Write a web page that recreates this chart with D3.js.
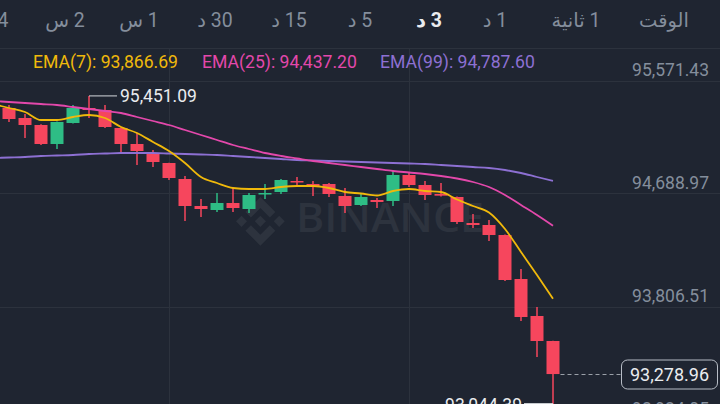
<!DOCTYPE html>
<html><head><meta charset="utf-8">
<script src="https://cdn.jsdelivr.net/npm/d3@7"></script>
<style>html,body{margin:0;padding:0;background:#1f2531;overflow:hidden}svg{display:block}</style>
</head><body>
<svg id="c" width="720" height="404"></svg>
<script>
// ---- data ----
const tabs = ["الوقت","1 ثانية","1 د","3 د","5 د","15 د","30 د","1 س","2 س","4"];
const activeTab = "3 د";
// candle index -1 is just off the left edge
const candleIdx = d3.range(-1, 35);
const opens  = [95380.00,95356.68,95278.58,95223.92,95075.54,95239.54,95356.68,95341.06,95200.49,95075.54,95005.25,94927.16,94802.21,94591.36,94560.12,94614.79,94567.93,94685.07,94700.69,94786.59,94763.16,94763.16,94669.45,94599.17,94638.21,94630.40,94833.45,94755.35,94685.07,94661.64,94458.60,94442.98,94364.89,94021.27,93732.33,93537.09];
const highs  = [95410.00,95380.11,95309.82,95230.00,95252.00,95380.11,95451.09,95380.11,95205.00,95161.44,95028.68,94930.00,94825.64,94646.02,94692.88,94731.93,94692.88,94763.16,94802.21,94818.00,94786.59,94770.00,94731.93,94685.07,94653.83,94864.69,94856.88,94786.59,94770.97,94665.00,94528.88,94482.03,94368.00,94099.37,93802.61,93540.00];
const lows   = [95340.00,95247.35,95122.40,95067.73,95036.49,95236.00,95278.58,95200.49,95013.06,94911.54,94895.92,94794.40,94474.22,94505.45,94544.50,94544.50,94536.69,94646.02,94685.07,94747.55,94669.45,94661.64,94536.69,94591.36,94575.74,94591.36,94739.74,94638.21,94665.00,94450.79,94419.55,94318.03,94005.65,93693.28,93412.14,93044.39];
const closes = [95356.68,95270.77,95223.92,95075.54,95247.35,95356.68,95341.06,95208.30,95075.54,95020.87,94934.97,94810.02,94591.36,94567.93,94614.79,94575.74,94677.26,94692.88,94794.40,94778.00,94739.74,94685.07,94591.36,94661.64,94622.60,94833.45,94755.35,94677.26,94672.00,94466.41,94442.98,94364.89,94013.46,93724.52,93537.09,93278.96];
const ema7  = [95387.91,95356.68,95325.44,95262.96,95262.96,95286.39,95302.01,95278.58,95208.30,95161.44,95091.16,95020.87,94927.16,94817.83,94770.97,94731.93,94724.12,94724.12,94739.74,94747.55,94747.55,94731.93,94700.69,94688.98,94673.36,94708.50,94724.12,94708.50,94700.69,94642.12,94591.36,94540.60,94411.74,94232.13,94052.51,93866.69];
const ema25 = [95411.34,95403.53,95395.72,95387.91,95380.11,95364.49,95348.87,95333.25,95317.63,95286.39,95255.16,95223.92,95184.87,95145.82,95106.78,95067.73,95036.49,95005.25,94981.83,94962.30,94942.78,94927.16,94911.54,94895.92,94880.30,94864.69,94852.97,94841.26,94825.64,94806.12,94778.78,94739.74,94677.26,94599.17,94521.07,94437.20];
const ema99 = [94966.21,94970.11,94974.02,94981.83,94985.73,94989.64,94997.45,95001.35,95005.25,95005.25,95005.25,95001.35,94997.45,94993.54,94989.64,94981.83,94974.02,94966.21,94958.40,94950.59,94946.68,94942.78,94938.87,94934.97,94931.07,94927.16,94923.26,94919.35,94911.54,94903.73,94895.92,94888.11,94872.50,94849.07,94817.83,94787.60];
const emaNames = ["EMA(7)","EMA(25)","EMA(99)"];
const priceTicks = [95571.43, 94688.97, 93806.51, 92924.05];
const timeGridIdx = [10, 25];
const highLabel = 95451.09, highIdx = 5;
const lowLabel = 93044.39, lowIdx = 34;
const lastPrice = 93278.96;

// ---- styles ----
const BG = "#1f2531", GRID = "#2c323d";
const UP = "#2ebd85", DOWN = "#f6465d";
const emaColors = ["#f0b90b", "#e348ab", "#8d70d3"];
const FONT = "Roboto, 'DejaVu Sans', sans-serif";

const svg = d3.select("#c");
const W = 720, H = 404;
svg.append("rect").attr("width", W).attr("height", H).attr("fill", BG);

const x = d3.scaleLinear().domain([0, 34]).range([9, 553]);
const y = d3.scaleLinear().domain([93806.51, 95571.43]).range([306.5, 80.5]);

// top tab bar
const tabX = [664, 576, 495, 429, 360, 289, 215, 139, 65, 3];
svg.append("g").selectAll("text").data(tabs).join("text")
  .attr("x", (d, i) => tabX[i]).attr("y", 27)
  .attr("text-anchor", "middle")
  .attr("direction", "rtl").attr("unicode-bidi", "embed")
  .attr("font-family", FONT).attr("font-size", 19.5)
  .attr("font-weight", d => d === activeTab ? 700 : 400)
  .attr("fill", d => d === activeTab ? "#eaecef" : "#848e9c")
  .text(d => d);
svg.append("line").attr("x1", 0).attr("x2", W).attr("y1", 48.5).attr("y2", 48.5).attr("stroke", GRID);

// grid
svg.append("g").selectAll("line").data(priceTicks).join("line")
  .attr("x1", 0).attr("x2", W)
  .attr("y1", d => Math.round(y(d)) + 0.5).attr("y2", d => Math.round(y(d)) + 0.5)
  .attr("stroke", GRID);
svg.append("g").selectAll("line").data(timeGridIdx).join("line")
  .attr("x1", d => Math.round(x(d)) + 0.5).attr("x2", d => Math.round(x(d)) + 0.5)
  .attr("y1", 49).attr("y2", H).attr("stroke", GRID);

// watermark
const wm = svg.append("g").attr("fill", "#2d333e");
const logo = wm.append("g").attr("transform", "translate(236,197) scale(0.385)");
logo.append("path").attr("d", "M38.73,53.2 L63.3,28.64 L87.89,53.22 L102.19,38.92 L63.3,0 L24.43,38.9 Z");
logo.append("path").attr("d", "M0,63.31 L14.3,49.01 L28.6,63.31 L14.3,77.61 Z");
logo.append("path").attr("d", "M48.8,63.3 L63.3,48.8 L77.8,63.3 L63.3,77.8 Z");
logo.append("path").attr("d", "M98.01,63.31 L112.31,49.01 L126.61,63.31 L112.31,77.61 Z");
logo.append("path").attr("d", "M38.73,73.41 L63.3,97.97 L87.89,73.39 L102.2,87.68 L63.3,126.61 L24.42,87.72 Z");
wm.append("text").attr("x", 296).attr("y", 232).attr("font-family", "'Open Sans', sans-serif")
  .attr("font-weight", 600).attr("font-size", 40).attr("textLength", 188).attr("lengthAdjust", "spacingAndGlyphs")
  .text("BINANCE");

// candles
const candles = candleIdx.map((k, i) => ({ k, o: opens[i], h: highs[i], l: lows[i], c: closes[i] }));
const cg = svg.append("g");
const bw = 13;
cg.selectAll("line").data(candles).join("line")
  .attr("x1", d => x(d.k)).attr("x2", d => x(d.k))
  .attr("y1", d => y(d.h)).attr("y2", d => y(d.l))
  .attr("stroke", d => d.c >= d.o ? UP : DOWN).attr("stroke-width", 1.5);
cg.selectAll("rect").data(candles).join("rect")
  .attr("x", d => x(d.k) - bw / 2).attr("width", bw)
  .attr("y", d => y(Math.max(d.o, d.c)))
  .attr("height", d => Math.max(1.5, Math.abs(y(d.o) - y(d.c))))
  .attr("fill", d => d.c >= d.o ? UP : DOWN);

// EMA lines
const line = d3.line().x((d, i) => x(candleIdx[i])).y(d => y(d)).curve(d3.curveMonotoneX);
[ema99, ema25, ema7].forEach((s, j) => {
  svg.append("path").attr("d", line(s)).attr("fill", "none")
    .attr("stroke", emaColors[2 - j]).attr("stroke-width", 1.8);
});

// legend
const legendX = [33, 202, 380];
const emaLast = [ema7, ema25, ema99].map(s => s[s.length - 1]);
const fmt = d3.format(",.2f");
svg.append("g").selectAll("text").data(emaNames).join("text")
  .attr("x", (d, i) => legendX[i]).attr("y", 68)
  .attr("font-family", FONT).attr("font-size", 17.6)
  .attr("fill", (d, i) => emaColors[i])
  .text((d, i) => `${d}: ${fmt(emaLast[i])}`);

// right price labels
svg.append("g").selectAll("text").data(priceTicks).join("text")
  .attr("x", 709).attr("y", d => y(d) - 5)
  .attr("text-anchor", "end")
  .attr("font-family", FONT).attr("font-size", 17.5).attr("fill", "#848e9c")
  .text(d => fmt(d));

// high / low markers
const hy = y(highLabel);
svg.append("line").attr("x1", x(highIdx)).attr("x2", 117).attr("y1", hy).attr("y2", hy).attr("stroke", "#d5d8dc").attr("stroke-width", 1);
svg.append("text").attr("x", 120).attr("y", hy + 6.5).attr("font-family", FONT).attr("font-size", 17.5)
  .attr("fill", "#eaecef").text(fmt(highLabel));
const ly = y(lowLabel);
svg.append("line").attr("x1", 524).attr("x2", x(lowIdx)).attr("y1", ly - 0.5).attr("y2", ly - 0.5).attr("stroke", "#d5d8dc").attr("stroke-width", 1);
svg.append("text").attr("x", 522).attr("y", ly + 6.5).attr("text-anchor", "end").attr("font-family", FONT).attr("font-size", 17.5)
  .attr("fill", "#eaecef").text(fmt(lowLabel));

// last price
const py = Math.round(y(lastPrice)) + 0.5;
svg.append("line").attr("x1", x(34) + bw / 2 + 1).attr("x2", 621).attr("y1", py).attr("y2", py)
  .attr("stroke", "#9aa0a8").attr("stroke-dasharray", "4,3");
svg.append("rect").attr("x", 621.5).attr("y", py - 14.5).attr("width", 96).attr("height", 29).attr("rx", 6)
  .attr("fill", BG).attr("stroke", "#b7bdc6").attr("stroke-width", 1);
svg.append("text").attr("x", 669.5).attr("y", py + 6.5).attr("text-anchor", "middle")
  .attr("font-family", FONT).attr("font-size", 18).attr("fill", "#eaecef").text(fmt(lastPrice));
</script>
</body></html>
